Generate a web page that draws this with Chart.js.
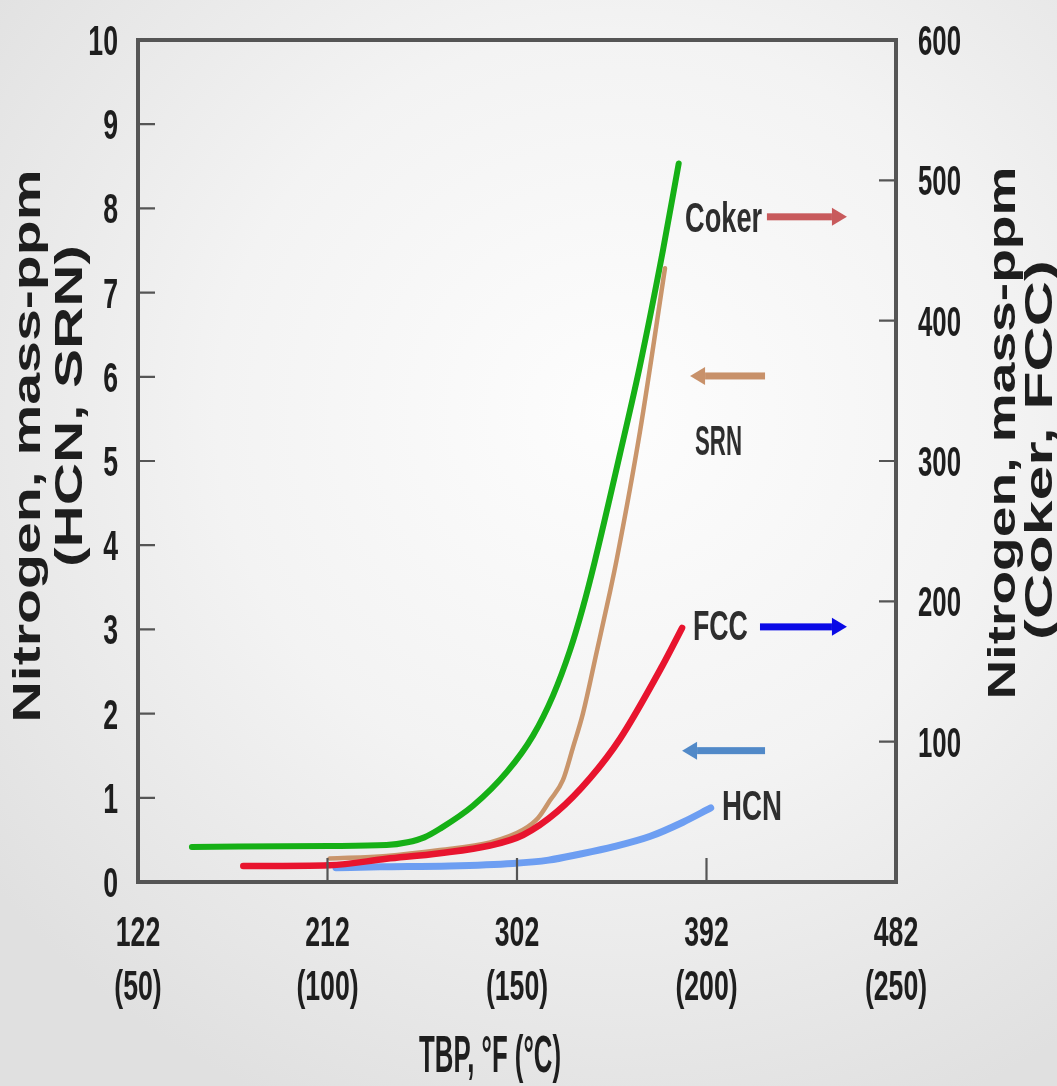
<!DOCTYPE html>
<html>
<head>
<meta charset="utf-8">
<script src="https://cdn.jsdelivr.net/npm/chart.js@4.4.1/dist/chart.umd.min.js"></script>
<style>
  html, body { margin: 0; padding: 0; }
  body {
    width: 1057px; height: 1086px; overflow: hidden;
    background: radial-gradient(ellipse 75% 70% at 58% 38%, #fdfdfd 0%, #f3f3f3 50%, #e0e0e0 100%);
  }
  canvas { display: block; }
</style>
</head>
<body>
<canvas id="c" width="1057" height="1086" style="width:1057px;height:1086px"></canvas>
<script>
// ---- Data ----
// X: TBP in °F, with °C in brackets
const xTickValues = [122, 212, 302, 392, 482];
const xTickF = ['122', '212', '302', '392', '482'];
const xTickC = ['(50)', '(100)', '(150)', '(200)', '(250)'];
const yLeftTicks = [0, 1, 2, 3, 4, 5, 6, 7, 8, 9, 10];
const yRightTicks = [100, 200, 300, 400, 500, 600];

// Coker (right axis, mass-ppm)
const cokerX = [147.6, 213, 240, 250, 258, 265.4, 281.1, 297.3, 309.6, 319.1, 327.2, 333.3, 339, 350.9, 360.4, 371.3, 378.8];
const cokerY = [25, 25.7, 26.3, 28.3, 31.8, 37.9, 54.3, 78.6, 104.3, 132.8, 165.2, 195.7, 228.8, 305, 368, 450, 512];

// SRN (left axis, mass-ppm)
const srnX = [213, 240, 265.4, 289.2, 304.9, 312, 317.7, 323.8, 328.6, 333.3, 340, 346.2, 349.5, 360.4, 372.3];
const srnY = [0.28, 0.31, 0.38, 0.47, 0.62, 0.76, 0.97, 1.21, 1.6, 2.0, 2.75, 3.45, 3.85, 5.35, 7.29];

// FCC (right axis, mass-ppm)
const fccX = [172, 213, 240, 265.4, 289.2, 304.9, 321, 336.7, 350.9, 371, 380.4];
const fccY = [11.4, 12, 16.5, 20.5, 26, 33.5, 50, 74, 102, 154, 181];

// HCN (left axis, mass-ppm)
const hcnX = [216, 237, 270, 300, 317, 331.6, 348, 365, 380.8, 394];
const hcnY = [0.17, 0.18, 0.19, 0.22, 0.26, 0.33, 0.42, 0.54, 0.71, 0.88];

const pts = (xs, ys) => xs.map((x, i) => ({ x: x, y: ys[i] }));

const FONT = '"Liberation Sans", Arial, sans-serif';
const INK = '#1e1e1e';

// draw text scaled along its own direction
function drawText(ctx, text, x, y, opts) {
  const o = Object.assign({ font: 'bold 40px ' + FONT, align: 'center', baseline: 'alphabetic',
    rot: 0, sx: null, width: null, color: INK }, opts);
  ctx.save();
  ctx.font = o.font;
  ctx.fillStyle = o.color;
  ctx.textAlign = o.align;
  ctx.textBaseline = o.baseline;
  const w = ctx.measureText(text).width;
  const k = o.width ? o.width / w : (o.sx || 1);
  ctx.translate(x, y);
  if (o.rot) ctx.rotate(o.rot);
  ctx.scale(k, 1);
  ctx.fillText(text, 0, 0);
  ctx.restore();
}

function arrow(ctx, x1, x2, y, color) {
  const dir = Math.sign(x2 - x1);
  const headL = 15, headH = 9, shaft = 7;
  ctx.save();
  ctx.fillStyle = color;
  const base = x2 - dir * headL;
  ctx.fillRect(Math.min(x1, base), y - shaft / 2, Math.abs(base - x1), shaft);
  ctx.beginPath();
  ctx.moveTo(x2, y);
  ctx.lineTo(base, y - headH);
  ctx.lineTo(base, y + headH);
  ctx.closePath();
  ctx.fill();
  ctx.restore();
}

const decor = {
  id: 'decor',
  afterDraw(chart) {
    const ctx = chart.ctx;
    const a = chart.chartArea;
    const sx = chart.scales.x, yl = chart.scales.y, yr = chart.scales.y2;

    // inner tick marks
    ctx.save();
    ctx.strokeStyle = '#555';
    ctx.lineWidth = 2.2;
    ctx.beginPath();
    yLeftTicks.slice(1, -1).forEach(v => {
      const py = yl.getPixelForValue(v);
      ctx.moveTo(a.left, py); ctx.lineTo(a.left + 17, py);
    });
    yRightTicks.slice(0, -1).forEach(v => {
      const py = yr.getPixelForValue(v);
      ctx.moveTo(a.right, py); ctx.lineTo(a.right - 17, py);
    });
    xTickValues.slice(1, -1).forEach(v => {
      const px = sx.getPixelForValue(v);
      ctx.moveTo(px, a.bottom); ctx.lineTo(px, a.bottom - 24);
    });
    ctx.stroke();
    // frame
    ctx.lineWidth = 4;
    ctx.strokeRect(a.left, a.top, a.right - a.left, a.bottom - a.top);
    ctx.restore();

    // tick labels (condensed, tall digits)
    const tf = 'bold 43px ' + FONT;
    yLeftTicks.forEach(v => {
      drawText(ctx, String(v), a.left - 20, yl.getPixelForValue(v) + 15, { font: tf, align: 'right', sx: 0.62 });
    });
    yRightTicks.forEach(v => {
      drawText(ctx, String(v), a.right + 22, yr.getPixelForValue(v) + 15, { font: tf, align: 'left', sx: 0.6 });
    });
    xTickValues.forEach((v, i) => {
      const px = sx.getPixelForValue(v);
      drawText(ctx, xTickF[i], px, a.bottom + 64, { font: tf, sx: 0.62 });
      drawText(ctx, xTickC[i], px, a.bottom + 118, { font: tf, sx: 0.62 });
    });

    // axis titles
    const af = 'bold 38px ' + FONT;
    const R = -Math.PI / 2;
    drawText(ctx, 'Nitrogen, mass-ppm', 40, 446, { font: af, rot: R, width: 553 });
    drawText(ctx, '(HCN, SRN)', 82, 406, { font: af, rot: R, width: 322 });
    drawText(ctx, 'Nitrogen, mass-ppm', 1015, 433, { font: af, rot: R, width: 533 });
    drawText(ctx, '(Coker, FCC)', 1052, 450, { font: af, rot: R, width: 380 });
    drawText(ctx, 'TBP, °F (°C)', 490, 1072, { font: 'bold 52px ' + FONT, width: 142 });

    // series labels and arrows (positioned in data units)
    const X = v => sx.getPixelForValue(v);
    const Y = v => yl.getPixelForValue(v);
    const lf = 'bold 42px ' + FONT;
    const lc = '#2e2e2e';
    drawText(ctx, 'Coker', X(400.1), Y(7.9) + 15, { font: lf, width: 77, color: lc });
    arrow(ctx, X(420.7), X(458.7), Y(7.9), '#c85a5c');
    drawText(ctx, 'SRN', X(397.7), Y(5.25) + 15, { font: lf, width: 47, color: lc });
    arrow(ctx, X(419.8), X(384.2), Y(6.01), '#c8916a');
    drawText(ctx, 'FCC', X(398.6), Y(3.05) + 15, { font: lf, width: 55, color: lc });
    arrow(ctx, X(417.4), X(458.7), Y(3.03), '#0a0ae6');
    drawText(ctx, 'HCN', X(413.6), Y(0.91) + 15, { font: lf, width: 60, color: lc });
    arrow(ctx, X(419.8), X(380.4), Y(1.56), '#5189c8');
  }
};

const lineDs = (label, data, color, width, axis, order) => ({
  label, data, borderColor: color, backgroundColor: color,
  borderWidth: width, yAxisID: axis, order,
  pointRadius: 0, fill: false, cubicInterpolationMode: 'monotone',
  borderCapStyle: 'round', borderJoinStyle: 'round'
});

new Chart(document.getElementById('c'), {
  type: 'line',
  data: {
    datasets: [
      lineDs('FCC', pts(fccX, fccY), '#e8142e', 6.5, 'y2', 0),
      lineDs('SRN', pts(srnX, srnY), '#c9956b', 4.5, 'y', 1),
      lineDs('HCN', pts(hcnX, hcnY), '#6d9ef2', 7, 'y', 2),
      lineDs('Coker', pts(cokerX, cokerY), '#16b016', 6, 'y2', 3)
    ]
  },
  options: {
    responsive: false,
    animation: false,
    layout: { padding: { top: 40, left: 0, right: 0, bottom: 0 } },
    plugins: { legend: { display: false }, tooltip: { enabled: false } },
    scales: {
      x: {
        type: 'linear', min: xTickValues[0], max: xTickValues[xTickValues.length - 1],
        afterBuildTicks: s => { s.ticks = xTickValues.map(v => ({ value: v })); },
        afterFit: s => { s.height = 204; },
        grid: { display: false }, border: { display: false },
        ticks: { display: false }
      },
      y: {
        type: 'linear', position: 'left', min: 0, max: 10,
        afterFit: s => { s.width = 138; },
        grid: { display: false }, border: { display: false },
        ticks: { display: false, stepSize: 1 }
      },
      y2: {
        type: 'linear', position: 'right', min: 0, max: 600,
        afterFit: s => { s.width = 161; },
        grid: { display: false }, border: { display: false },
        ticks: { display: false, stepSize: 100 }
      }
    }
  },
  plugins: [decor]
});
</script>
</body>
</html>
